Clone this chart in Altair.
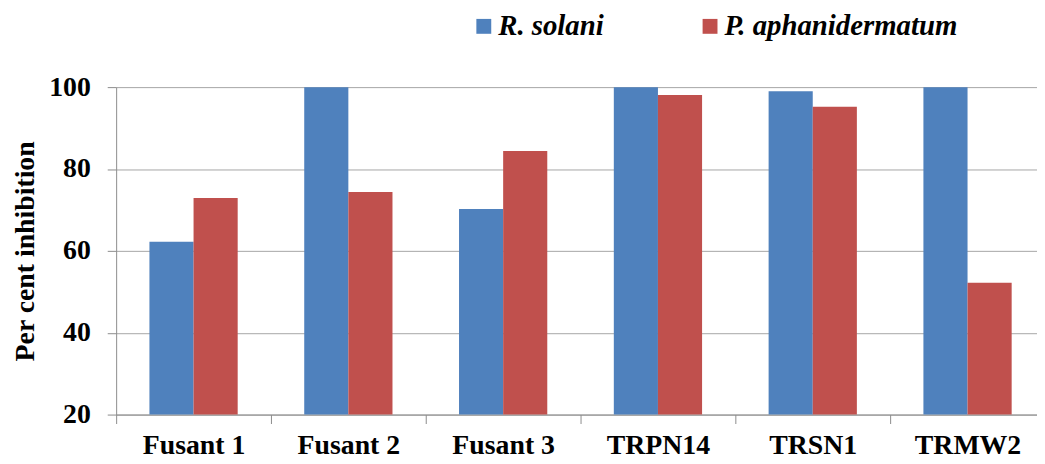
import altair as alt
import pandas as pd

categories = ["Fusant 1", "Fusant 2", "Fusant 3", "TRPN14", "TRSN1", "TRMW2"]
series = ["R. solani", "P. aphanidermatum"]
r_solani = [62.2, 100.0, 70.2, 100.0, 99.0, 100.0]
p_aphanidermatum = [72.9, 74.4, 84.4, 98.1, 95.2, 52.2]
colors = ["#4F81BD", "#C0504D"]
y_ticks = [20, 40, 60, 80, 100]

rows = []
for i, c in enumerate(categories):
    rows.append({"cat": c, "series": series[0], "value": r_solani[i]})
    rows.append({"cat": c, "series": series[1], "value": p_aphanidermatum[i]})
df = pd.DataFrame(rows)

FONT = "Liberation Serif"
AXIS_GRAY = "#8c8c8c"

chart = (
    alt.Chart(df)
    .mark_bar()
    .encode(
        x=alt.X(
            "cat:N",
            sort=categories,
            title=None,
            scale=alt.Scale(paddingInner=0, paddingOuter=0, rangeMax=936),
            axis=alt.Axis(
                tickBand="extent",
                labelAngle=0,
                labelPadding=8,
                grid=False,
            ),
        ),
        xOffset=alt.XOffset(
            "series:N",
            sort=series,
            scale=alt.Scale(paddingOuter=0.754, paddingInner=0),
        ),
        y=alt.Y(
            "value:Q",
            scale=alt.Scale(domain=[20, 100], nice=False, zero=False),
            title="Per cent inhibition",
            axis=alt.Axis(
                values=y_ticks,
                grid=True,
                gridColor="#a6a6a6",
                gridWidth=1,
                labelPadding=17,
                titlePadding=9,
                titleFont=FONT,
                titleFontSize=28,
                titleFontWeight="bold",
                titleColor="black",
            ),
        ),
        y2=alt.datum(20),
        color=alt.Color(
            "series:N",
            sort=series,
            scale=alt.Scale(domain=series, range=colors),
            legend=alt.Legend(
                title=None,
                orient="none",
                legendX=356,
                legendY=-76,
                direction="horizontal",
                columns=2,
                symbolType="square",
                symbolSize=225,
                symbolStrokeWidth=0,
                labelFont=FONT,
                labelFontSize=29,
                labelFontWeight="bold",
                labelFontStyle="italic",
                labelColor="black",
                labelOffset=0,
                labelLimit=400,
                columnPadding=92,
                padding=0,
            ),
        ),
    )
    .properties(
        width=928,
        height=330,
        autosize=alt.AutoSizeParams(type="none"),
        padding={"left": 109, "top": 78, "right": 0, "bottom": 40},
    )
    .configure_axis(
        labelFont=FONT,
        labelFontSize=28,
        labelFontWeight="bold",
        labelColor="black",
        tickSize=9,
        tickColor=AXIS_GRAY,
        domainColor=AXIS_GRAY,
        domainWidth=1,
        tickWidth=1,
    )
    .configure_view(stroke=None)
)

chart.save("out.html", embed_options={"renderer": "svg", "actions": False})
